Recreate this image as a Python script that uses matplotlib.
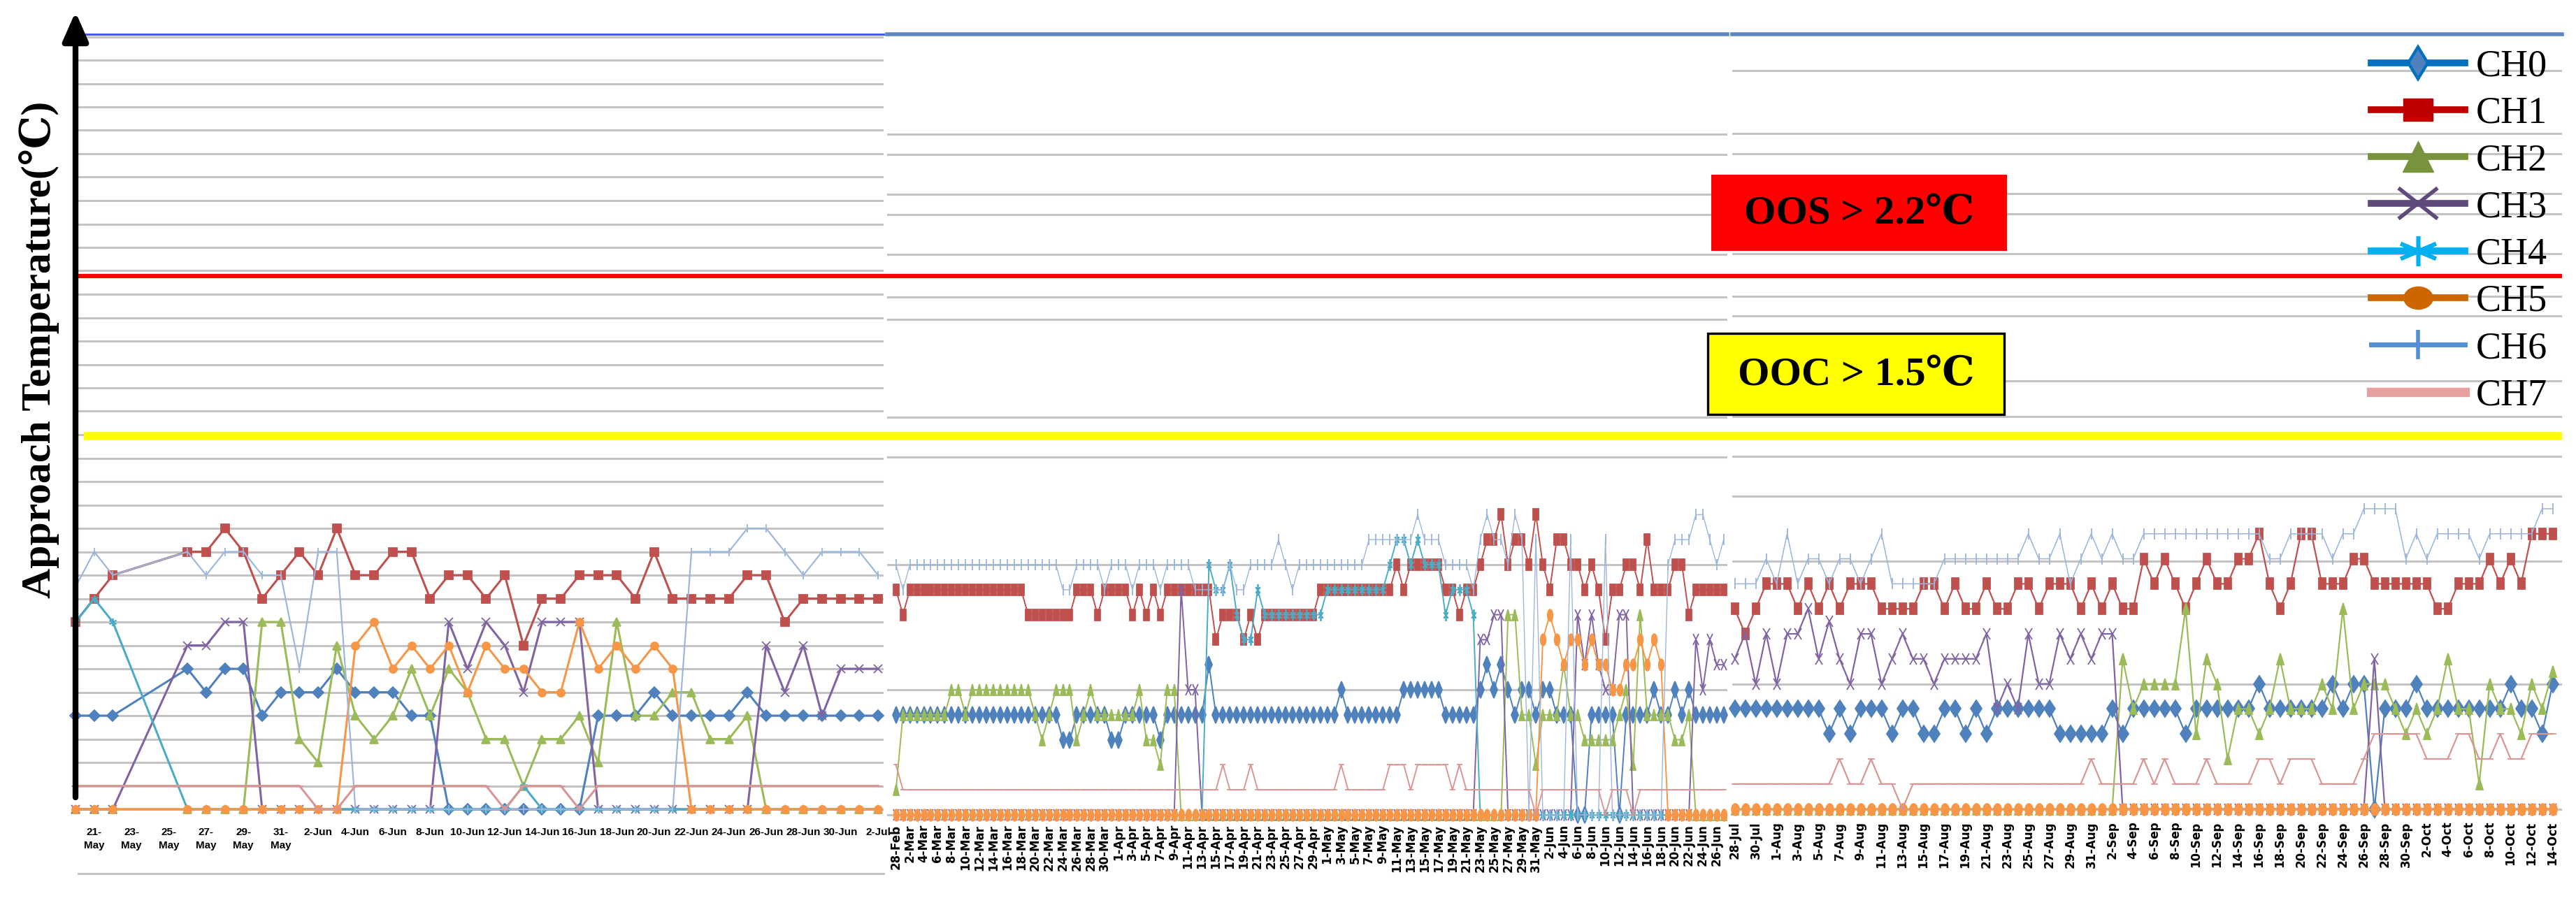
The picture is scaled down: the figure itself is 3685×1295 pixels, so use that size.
import matplotlib
matplotlib.use("Agg")
import matplotlib.pyplot as plt
from matplotlib.lines import Line2D
from matplotlib.markers import MarkerStyle
from matplotlib.patches import Rectangle

# ---------------------------------------------------------------------------
# Data: approach temperature (degC) per channel
# ---------------------------------------------------------------------------
CHANNELS = ["CH0", "CH1", "CH2", "CH3", "CH4", "CH5", "CH6", "CH7"]

OOS_LIMIT = 2.2
OOC_LIMIT = 1.5

# panel 1: day offset from 20-May (no readings 23..25 May)
LEFT_DAY = [0, 1, 2, 6, 7, 8, 9, 10, 11, 12, 13, 14, 15, 16, 17, 18, 19, 20, 21, 22,
            23, 24, 25, 26, 27, 28, 29, 30, 31, 32, 33, 34, 35, 36, 37, 38, 39, 40, 41, 42, 43]
LEFT_CH0 = [0.4, 0.4, 0.4, 0.6, 0.5, 0.6, 0.6, 0.4, 0.5, 0.5, 0.5, 0.6, 0.5, 0.5, 0.5, 0.4, 0.4, 0, 0, 0,
            0, 0, 0, 0, 0, 0.4, 0.4, 0.4, 0.5, 0.4, 0.4, 0.4, 0.4, 0.5, 0.4, 0.4, 0.4, 0.4, 0.4, 0.4, 0.4]
LEFT_CH1 = [0.8, 0.9, 1.0, 1.1, 1.1, 1.2, 1.1, 0.9, 1.0, 1.1, 1.0, 1.2, 1.0, 1.0, 1.1, 1.1, 0.9, 1.0, 1.0, 0.9,
            1.0, 0.7, 0.9, 0.9, 1.0, 1.0, 1.0, 0.9, 1.1, 0.9, 0.9, 0.9, 0.9, 1.0, 1.0, 0.8, 0.9, 0.9, 0.9, 0.9, 0.9]
LEFT_CH2 = [0, 0, 0, 0, 0, 0, 0, 0.8, 0.8, 0.3, 0.2, 0.7, 0.4, 0.3, 0.4, 0.6, 0.4, 0.6, 0.5, 0.3,
            0.3, 0.1, 0.3, 0.3, 0.4, 0.2, 0.8, 0.4, 0.4, 0.5, 0.5, 0.3, 0.3, 0.4, 0, 0, 0, 0, 0, 0, 0]
LEFT_CH3 = [0, 0, 0, 0.7, 0.7, 0.8, 0.8, 0, 0, 0, 0, 0, 0, 0, 0, 0, 0, 0.8, 0.6, 0.8,
            0.7, 0.5, 0.8, 0.8, 0.8, 0, 0, 0, 0, 0, 0, 0, 0, 0, 0.7, 0.5, 0.7, 0.4, 0.6, 0.6, 0.6]
LEFT_CH4 = [0.8, 0.9, 0.8, 0, 0, 0, 0, 0, 0, 0, 0, 0, 0, 0, 0, 0, 0, 0, 0, 0,
            0, 0.1, 0, 0, 0, 0, 0, 0, 0, 0, 0, 0, 0, 0, 0, 0, 0, 0, 0, 0, 0]
LEFT_CH5 = [0, 0, 0, 0, 0, 0, 0, 0, 0, 0, 0, 0, 0.7, 0.8, 0.6, 0.7, 0.6, 0.7, 0.5, 0.7,
            0.6, 0.6, 0.5, 0.5, 0.8, 0.6, 0.7, 0.6, 0.7, 0.6, 0, 0, 0, 0, 0, 0, 0, 0, 0, 0, 0]
LEFT_CH6 = [0.95, 1.1, 1.0, 1.1, 1.0, 1.1, 1.1, 1.0, 1.0, 0.6, 1.1, 1.1, 0, 0, 0, 0, 0, 0, 0, 0,
            0, 0, 0, 0, 0, 0, 0, 0, 0, 0, 1.1, 1.1, 1.1, 1.2, 1.2, 1.1, 1.0, 1.1, 1.1, 1.1, 1.0]
LEFT_CH7 = [0.1, 0.1, 0.1, 0.1, 0.1, 0.1, 0.1, 0.1, 0.1, 0.1, 0, 0, 0.1, 0.1, 0.1, 0.1, 0.1, 0.1, 0.1, 0.1,
            0, 0.1, 0.1, 0.1, 0, 0.1, 0.1, 0.1, 0.1, 0.1, 0.1, 0.1, 0.1, 0.1, 0.1, 0.1, 0.1, 0.1, 0.1, 0.1, 0.1]
LEFT_TICK_DAY = [1, 3, 5, 7, 9, 11, 13, 15, 17, 19, 21, 23, 25, 27, 29, 31, 33, 35, 37, 39, 41, 43]
LEFT_TICK_LABEL = ["21-\nMay", "23-\nMay", "25-\nMay", "27-\nMay", "29-\nMay", "31-\nMay",
                   "2-Jun", "4-Jun", "6-Jun", "8-Jun", "10-Jun", "12-Jun", "14-Jun", "16-Jun",
                   "18-Jun", "20-Jun", "22-Jun", "24-Jun", "26-Jun", "28-Jun", "30-Jun", "2-Jul"]

# panel 2: daily readings from 28-Feb
MID_CH0 = [0.4, 0.4, 0.4, 0.4, 0.4, 0.4, 0.4, 0.4, 0.4, 0.4, 0.4, 0.4, 0.4, 0.4, 0.4, 0.4, 0.4, 0.4, 0.4, 0.4,
           0.4, 0.4, 0.4, 0.4, 0.3, 0.3, 0.4, 0.4, 0.4, 0.4, 0.4, 0.3, 0.3, 0.4, 0.4, 0.4, 0.4, 0.4, 0.3, 0.4,
           0.4, 0.4, 0.4, 0.4, 0.4, 0.6, 0.4, 0.4, 0.4, 0.4, 0.4, 0.4, 0.4, 0.4, 0.4, 0.4, 0.4, 0.4, 0.4, 0.4,
           0.4, 0.4, 0.4, 0.4, 0.5, 0.4, 0.4, 0.4, 0.4, 0.4, 0.4, 0.4, 0.4, 0.5, 0.5, 0.5, 0.5, 0.5, 0.5, 0.4,
           0.4, 0.4, 0.4, 0.4, 0.5, 0.6, 0.5, 0.6, 0.5, 0.4, 0.5, 0.5, 0.4, 0.5, 0.5, 0.4, 0.4, 0.4, 0.0, 0.0,
           0.4, 0.4, 0.4, 0.4, 0.0, 0.4, 0.4, 0.4, 0.4, 0.5, 0.4, 0.4, 0.5, 0.4, 0.5, 0.4, 0.4, 0.4, 0.4, 0.4]
MID_CH1 = [0.9, 0.8, 0.9, 0.9, 0.9, 0.9, 0.9, 0.9, 0.9, 0.9, 0.9, 0.9, 0.9, 0.9, 0.9, 0.9, 0.9, 0.9, 0.9, 0.8,
           0.8, 0.8, 0.8, 0.8, 0.8, 0.8, 0.9, 0.9, 0.9, 0.8, 0.9, 0.9, 0.9, 0.9, 0.8, 0.9, 0.8, 0.9, 0.8, 0.9,
           0.9, 0.9, 0.9, 0.9, 0.9, 0.9, 0.7, 0.8, 0.8, 0.8, 0.7, 0.8, 0.7, 0.8, 0.8, 0.8, 0.8, 0.8, 0.8, 0.8,
           0.8, 0.9, 0.9, 0.9, 0.9, 0.9, 0.9, 0.9, 0.9, 0.9, 0.9, 0.9, 1.0, 0.9, 1.0, 1.0, 1.0, 1.0, 1.0, 0.9,
           0.9, 0.8, 0.9, 0.9, 1.0, 1.1, 1.1, 1.2, 1.0, 1.1, 1.1, 1.0, 1.2, 1.0, 0.9, 1.1, 1.1, 1.0, 1.0, 0.9,
           1.0, 0.9, 0.7, 0.9, 0.9, 1.0, 1.0, 0.9, 1.1, 0.9, 0.9, 0.9, 1.0, 1.0, 0.8, 0.9, 0.9, 0.9, 0.9, 0.9]
MID_CH2 = [0.1, 0.4, 0.4, 0.4, 0.4, 0.4, 0.4, 0.4, 0.5, 0.5, 0.4, 0.5, 0.5, 0.5, 0.5, 0.5, 0.5, 0.5, 0.5, 0.5,
           0.4, 0.3, 0.4, 0.5, 0.5, 0.5, 0.3, 0.4, 0.5, 0.4, 0.4, 0.4, 0.4, 0.4, 0.4, 0.5, 0.3, 0.3, 0.2, 0.5,
           0.5, 0, 0, 0, 0, 0, 0, 0, 0, 0, 0, 0, 0, 0, 0, 0, 0, 0, 0, 0,
           0, 0, 0, 0, 0, 0, 0, 0, 0, 0, 0, 0, 0, 0, 0, 0, 0, 0, 0, 0,
           0, 0, 0, 0, 0, 0, 0, 0, 0.8, 0.8, 0.4, 0.4, 0.2, 0.4, 0.4, 0.4, 0.6, 0.4, 0.4, 0.3,
           0.3, 0.3, 0.3, 0.3, 0.4, 0.5, 0.2, 0.8, 0.4, 0.4, 0.4, 0.4, 0.3, 0.3, 0.4, 0, 0, 0, 0, 0]
MID_CH3 = [0, 0, 0, 0, 0, 0, 0, 0, 0, 0, 0, 0, 0, 0, 0, 0, 0, 0, 0, 0,
           0, 0, 0, 0, 0, 0, 0, 0, 0, 0, 0, 0, 0, 0, 0, 0, 0, 0, 0, 0,
           0, 0.9, 0.5, 0.5, 0, 0, 0, 0, 0, 0, 0, 0, 0, 0, 0, 0, 0, 0, 0, 0,
           0, 0, 0, 0, 0, 0, 0, 0, 0, 0, 0, 0, 0, 0, 0, 0, 0, 0, 0, 0,
           0, 0, 0, 0, 0.7, 0.7, 0.8, 0.8, 0, 0, 0, 0, 0, 0, 0, 0, 0, 0, 0.8, 0.6,
           0.8, 0.6, 0.5, 0.5, 0.8, 0.8, 0, 0, 0, 0, 0, 0, 0, 0, 0, 0.7, 0.5, 0.7, 0.6, 0.6]
MID_CH4 = [0, 0, 0, 0, 0, 0, 0, 0, 0, 0, 0, 0, 0, 0, 0, 0, 0, 0, 0, 0,
           0, 0, 0, 0, 0, 0, 0, 0, 0, 0, 0, 0, 0, 0, 0, 0, 0, 0, 0, 0,
           0, 0, 0, 0, 0, 1.0, 0.9, 0.9, 1.0, 0.8, 0.7, 0.7, 0.9, 0.8, 0.8, 0.8, 0.8, 0.8, 0.8, 0.8,
           0.8, 0.8, 0.9, 0.9, 0.9, 0.9, 0.9, 0.9, 0.9, 0.9, 0.9, 1.0, 1.1, 1.1, 1.0, 1.1, 1.0, 1.0, 1.0, 0.8,
           0.9, 0.9, 0.9, 0.8, 0, 0, 0, 0, 0, 0, 0, 0, 0, 0, 0, 0, 0, 0, 0, 0,
           0, 0, 0, 0, 0, 0, 0, 0, 0, 0, 0, 0, 0, 0, 0, 0, 0, 0, 0, 0]
MID_CH5 = [0, 0, 0, 0, 0, 0, 0, 0, 0, 0, 0, 0, 0, 0, 0, 0, 0, 0, 0, 0,
           0, 0, 0, 0, 0, 0, 0, 0, 0, 0, 0, 0, 0, 0, 0, 0, 0, 0, 0, 0,
           0, 0, 0, 0, 0, 0, 0, 0, 0, 0, 0, 0, 0, 0, 0, 0, 0, 0, 0, 0,
           0, 0, 0, 0, 0, 0, 0, 0, 0, 0, 0, 0, 0, 0, 0, 0, 0, 0, 0, 0,
           0, 0, 0, 0, 0, 0, 0, 0, 0, 0, 0, 0, 0, 0.7, 0.8, 0.7, 0.6, 0.7, 0.7, 0.6,
           0.7, 0.6, 0.6, 0.5, 0.5, 0.6, 0.6, 0.7, 0.6, 0.7, 0.6, 0, 0, 0, 0, 0, 0, 0, 0, 0]
MID_CH6 = [1.0, 0.9, 1.0, 1.0, 1.0, 1.0, 1.0, 1.0, 1.0, 1.0, 1.0, 1.0, 1.0, 1.0, 1.0, 1.0, 1.0, 1.0, 1.0, 1.0,
           1.0, 1.0, 1.0, 1.0, 0.9, 0.9, 1.0, 1.0, 1.0, 1.0, 0.9, 1.0, 1.0, 1.0, 0.9, 1.0, 1.0, 1.0, 0.9, 1.0,
           1.0, 1.0, 1.0, 0.9, 0.9, 0.9, 0.9, 0.9, 1.0, 0.9, 0.9, 1.0, 1.0, 1.0, 1.0, 1.1, 1.0, 0.9, 1.0, 1.0,
           1.0, 1.0, 1.0, 1.0, 1.0, 1.0, 1.0, 1.0, 1.1, 1.1, 1.1, 1.1, 1.1, 1.1, 1.1, 1.2, 1.1, 1.1, 1.1, 1.0,
           1.0, 1.0, 1.0, 0.9, 1.1, 1.2, 1.1, 1.1, 1.0, 1.2, 1.1, 0, 1.1, 0, 0, 0, 0, 1.1, 0, 0,
           0, 0, 1.1, 0, 0, 0, 0, 0, 0, 0, 0, 1.0, 1.1, 1.1, 1.1, 1.2, 1.2, 1.1, 1.0, 1.1]
MID_CH7 = [0.2, 0.1, 0.1, 0.1, 0.1, 0.1, 0.1, 0.1, 0.1, 0.1, 0.1, 0.1, 0.1, 0.1, 0.1, 0.1, 0.1, 0.1, 0.1, 0.1,
           0.1, 0.1, 0.1, 0.1, 0.1, 0.1, 0.1, 0.1, 0.1, 0.1, 0.1, 0.1, 0.1, 0.1, 0.1, 0.1, 0.1, 0.1, 0.1, 0.1,
           0.1, 0.1, 0.1, 0.1, 0.1, 0.1, 0.1, 0.2, 0.1, 0.1, 0.1, 0.2, 0.1, 0.1, 0.1, 0.1, 0.1, 0.1, 0.1, 0.1,
           0.1, 0.1, 0.1, 0.1, 0.2, 0.1, 0.1, 0.1, 0.1, 0.1, 0.1, 0.2, 0.2, 0.2, 0.1, 0.2, 0.2, 0.2, 0.2, 0.2,
           0.1, 0.2, 0.1, 0.1, 0.1, 0.1, 0.1, 0.1, 0.1, 0.1, 0.1, 0.1, 0, 0.1, 0.1, 0.1, 0.1, 0.1, 0.1, 0.1,
           0.1, 0.1, 0, 0.1, 0.1, 0.1, 0, 0.1, 0.1, 0.1, 0.1, 0.1, 0.1, 0.1, 0.1, 0.1, 0.1, 0.1, 0.1, 0.1]
MID_TICK_LABEL = ["28-Feb", "2-Mar", "4-Mar", "6-Mar", "8-Mar", "10-Mar", "12-Mar", "14-Mar", "16-Mar",
                  "18-Mar", "20-Mar", "22-Mar", "24-Mar", "26-Mar", "28-Mar", "30-Mar", "1-Apr", "3-Apr",
                  "5-Apr", "7-Apr", "9-Apr", "11-Apr", "13-Apr", "15-Apr", "17-Apr", "19-Apr", "21-Apr",
                  "23-Apr", "25-Apr", "27-Apr", "29-Apr", "1-May", "3-May", "5-May", "7-May", "9-May",
                  "11-May", "13-May", "15-May", "17-May", "19-May", "21-May", "23-May", "25-May", "27-May",
                  "29-May", "31-May", "2-Jun", "4-Jun", "6-Jun", "8-Jun", "10-Jun", "12-Jun", "14-Jun",
                  "16-Jun", "18-Jun", "20-Jun", "22-Jun", "24-Jun", "26-Jun"]

# panel 3: daily readings from 28-Jul
RIGHT_CH0 = [0.4, 0.4, 0.4, 0.4, 0.4, 0.4, 0.4, 0.4, 0.4, 0.3, 0.4, 0.3, 0.4, 0.4, 0.4, 0.3, 0.4, 0.4, 0.3, 0.3,
             0.4, 0.4, 0.3, 0.4, 0.3, 0.4, 0.4, 0.4, 0.4, 0.4, 0.4, 0.3, 0.3, 0.3, 0.3, 0.3, 0.4, 0.3, 0.4, 0.4,
             0.4, 0.4, 0.4, 0.3, 0.4, 0.4, 0.4, 0.4, 0.4, 0.4, 0.5, 0.4, 0.4, 0.4, 0.4, 0.4, 0.4, 0.5, 0.4, 0.5,
             0.5, 0, 0.4, 0.4, 0.4, 0.5, 0.4, 0.4, 0.4, 0.4, 0.4, 0.4, 0.4, 0.4, 0.5, 0.4, 0.4, 0.3, 0.5]
RIGHT_CH1 = [0.8, 0.7, 0.8, 0.9, 0.9, 0.9, 0.8, 0.9, 0.8, 0.9, 0.8, 0.9, 0.9, 0.9, 0.8, 0.8, 0.8, 0.8, 0.9, 0.9,
             0.8, 0.9, 0.8, 0.8, 0.9, 0.8, 0.8, 0.9, 0.9, 0.8, 0.9, 0.9, 0.9, 0.8, 0.9, 0.8, 0.9, 0.8, 0.8, 1.0,
             0.9, 1.0, 0.9, 0.8, 0.9, 1.0, 0.9, 0.9, 1.0, 1.0, 1.1, 0.9, 0.8, 0.9, 1.1, 1.1, 0.9, 0.9, 0.9, 1.0,
             1.0, 0.9, 0.9, 0.9, 0.9, 0.9, 0.9, 0.8, 0.8, 0.9, 0.9, 0.9, 1.0, 0.9, 1.0, 0.9, 1.1, 1.1, 1.1]
RIGHT_CH2 = [0, 0, 0, 0, 0, 0, 0, 0, 0, 0, 0, 0, 0, 0, 0, 0, 0, 0, 0, 0,
             0, 0, 0, 0, 0, 0, 0, 0, 0, 0, 0, 0, 0, 0, 0, 0, 0, 0.6, 0.4, 0.5,
             0.5, 0.5, 0.5, 0.8, 0.3, 0.6, 0.5, 0.2, 0.4, 0.4, 0.3, 0.4, 0.6, 0.4, 0.4, 0.4, 0.5, 0.4, 0.8, 0.4,
             0.5, 0.5, 0.5, 0.4, 0.3, 0.4, 0.3, 0.4, 0.6, 0.4, 0.4, 0.1, 0.5, 0.4, 0.4, 0.3, 0.5, 0.4, 0.55]
RIGHT_CH3 = [0.6, 0.7, 0.5, 0.7, 0.5, 0.7, 0.7, 0.8, 0.6, 0.75, 0.6, 0.5, 0.7, 0.7, 0.5, 0.6, 0.7, 0.6, 0.6, 0.5,
             0.6, 0.6, 0.6, 0.6, 0.7, 0.4, 0.5, 0.4, 0.7, 0.5, 0.5, 0.7, 0.6, 0.7, 0.6, 0.7, 0.7, 0, 0, 0,
             0, 0, 0, 0, 0, 0, 0, 0, 0, 0, 0, 0, 0, 0, 0, 0, 0, 0, 0, 0,
             0, 0.6, 0, 0, 0, 0, 0, 0, 0, 0, 0, 0, 0, 0, 0, 0, 0, 0, 0]
RIGHT_CH4 = [0, 0, 0, 0, 0, 0, 0, 0, 0, 0, 0, 0, 0, 0, 0, 0, 0, 0, 0, 0,
             0, 0, 0, 0, 0, 0, 0, 0, 0, 0, 0, 0, 0, 0, 0, 0, 0, 0, 0, 0,
             0, 0, 0, 0, 0, 0, 0, 0, 0, 0, 0, 0, 0, 0, 0, 0, 0, 0, 0, 0,
             0, 0, 0, 0, 0, 0, 0, 0, 0, 0, 0, 0, 0, 0, 0, 0, 0, 0, 0]
RIGHT_CH5 = [0, 0, 0, 0, 0, 0, 0, 0, 0, 0, 0, 0, 0, 0, 0, 0, 0, 0, 0, 0,
             0, 0, 0, 0, 0, 0, 0, 0, 0, 0, 0, 0, 0, 0, 0, 0, 0, 0, 0, 0,
             0, 0, 0, 0, 0, 0, 0, 0, 0, 0, 0, 0, 0, 0, 0, 0, 0, 0, 0, 0,
             0, 0, 0, 0, 0, 0, 0, 0, 0, 0, 0, 0, 0, 0, 0, 0, 0, 0, 0]
RIGHT_CH6 = [0.9, 0.9, 0.9, 1.0, 0.9, 1.1, 0.9, 1.0, 1.0, 0.9, 1.0, 1.0, 0.9, 1.0, 1.1, 0.9, 0.9, 0.9, 0.9, 0.9,
             1.0, 1.0, 1.0, 1.0, 1.0, 1.0, 1.0, 1.0, 1.1, 1.0, 1.0, 1.1, 0.9, 1.0, 1.1, 1.0, 1.1, 1.0, 1.0, 1.1,
             1.1, 1.1, 1.1, 1.1, 1.1, 1.1, 1.1, 1.1, 1.1, 1.1, 1.1, 1.0, 1.0, 1.1, 1.1, 1.1, 1.1, 1.0, 1.1, 1.1,
             1.2, 1.2, 1.2, 1.2, 1.0, 1.1, 1.0, 1.1, 1.1, 1.1, 1.1, 1.0, 1.1, 1.1, 1.1, 1.1, 1.1, 1.2, 1.2]
RIGHT_CH7 = [0.1, 0.1, 0.1, 0.1, 0.1, 0.1, 0.1, 0.1, 0.1, 0.1, 0.2, 0.1, 0.1, 0.2, 0.1, 0.1, 0, 0.1, 0.1, 0.1,
             0.1, 0.1, 0.1, 0.1, 0.1, 0.1, 0.1, 0.1, 0.1, 0.1, 0.1, 0.1, 0.1, 0.1, 0.2, 0.1, 0.1, 0.1, 0.1, 0.2,
             0.1, 0.2, 0.1, 0.1, 0.1, 0.2, 0.1, 0.1, 0.1, 0.1, 0.2, 0.2, 0.1, 0.2, 0.2, 0.2, 0.1, 0.1, 0.1, 0.1,
             0.2, 0.3, 0.3, 0.3, 0.3, 0.3, 0.2, 0.2, 0.2, 0.3, 0.3, 0.2, 0.2, 0.3, 0.2, 0.2, 0.3, 0.3, 0.3]
RIGHT_TICK_LABEL = ["28-Jul", "30-Jul", "1-Aug", "3-Aug", "5-Aug", "7-Aug", "9-Aug", "11-Aug", "13-Aug",
                    "15-Aug", "17-Aug", "19-Aug", "21-Aug", "23-Aug", "25-Aug", "27-Aug", "29-Aug", "31-Aug",
                    "2-Sep", "4-Sep", "6-Sep", "8-Sep", "10-Sep", "12-Sep", "14-Sep", "16-Sep", "18-Sep",
                    "20-Sep", "22-Sep", "24-Sep", "26-Sep", "28-Sep", "30-Sep", "2-Oct", "4-Oct", "6-Oct",
                    "8-Oct", "10-Oct", "12-Oct", "14-Oct"]

# ---------------------------------------------------------------------------
# Styling
# ---------------------------------------------------------------------------
SERIES_COLOR = ["#4f81bd", "#c0504d", "#9bbb59", "#8064a2", "#4bacc6", "#f79646", "#9ab6dc", "#d99694"]
SERIES_MARKER = ["D", "s", "^", "x", (6, 2, 0), "o", "|", "_"]

SERIF = ["Liberation Serif", "DejaVu Serif", "DejaVu Sans"]
NARROW = ["Liberation Sans Narrow", "Liberation Sans", "DejaVu Sans"]
GRID = "#c4c4c4"

W, H = 3685, 1295          # output size in px (dpi 100)
TOP_PX, BOTTOM_PX = 48.5, 1170

fig = plt.figure(figsize=(W / 100, H / 100), dpi=100)


def add_panel(x0, x1, day0_px, px_day, base_px, px_tenth, spine_color, spine_lw):
    ax = fig.add_axes([x0 / W, 1 - BOTTOM_PX / H, (x1 - x0) / W, (BOTTOM_PX - TOP_PX) / H])
    ax.set_xlim((x0 - day0_px) / px_day, (x1 - day0_px) / px_day)
    ax.set_ylim(-(BOTTOM_PX - base_px) / px_tenth * 0.1, (base_px - TOP_PX) / px_tenth * 0.1)
    ax.patch.set_alpha(0)
    for side in ("left", "right", "bottom"):
        ax.spines[side].set_visible(False)
    ax.spines["top"].set_color(spine_color)
    ax.spines["top"].set_linewidth(spine_lw)
    ax.set_yticks([])
    ax.tick_params(axis="x", length=0)
    return ax


def draw_series(ax, x, series, lw, ms, squeeze):
    for i, vals in enumerate(series):
        color = SERIES_COLOR[i]
        marker = MarkerStyle(SERIES_MARKER[i]).scaled(squeeze, 1.0)
        ax.plot(x, vals, color=color, lw=lw * (0.7 if i == 6 else 1.0), marker=marker, ms=ms,
                mfc=color, mec=color, mew=1.3, zorder=2 + i, clip_on=False)


# --- panel 1 --------------------------------------------------------------
ax1 = add_panel(112, 1264, 108, 26.7, 1158, 33.5, "#4657ee", 2.2)
for k in range(34):
    ax1.axhline(k * 0.1, color=GRID, lw=2.2, zorder=0)
ax1.axhline(-0.275, color=GRID, lw=2.2, zorder=0, clip_on=False)
draw_series(ax1, LEFT_DAY, [LEFT_CH0, LEFT_CH1, LEFT_CH2, LEFT_CH3, LEFT_CH4, LEFT_CH5, LEFT_CH6, LEFT_CH7],
            lw=2.2, ms=8, squeeze=1.0)
ax1.set_xticks(LEFT_TICK_DAY)
ax1.set_xticklabels(LEFT_TICK_LABEL, fontsize=11, fontweight="bold", family=NARROW, linespacing=1.45)
ax1.tick_params(axis="x", pad=10)

# --- panel 2 --------------------------------------------------------------
ax2 = add_panel(1269, 2471, 1281.7, 9.95, 1166, 35.8, "#5b87c5", 4)
for lv in [2.72, 2.64, 2.48, 2.40, 2.24, 2.07, 1.98, 1.59, 1.43, 1.0, 0.5, 0.0]:
    ax2.axhline(lv, color=GRID, lw=2.2, zorder=0)
mid_days = list(range(len(MID_CH0)))
draw_series(ax2, mid_days, [MID_CH0, MID_CH1, MID_CH2, MID_CH3, MID_CH4, MID_CH5, MID_CH6, MID_CH7],
            lw=1.4, ms=12, squeeze=0.45)
ax2.set_xticks(mid_days[::2])
ax2.set_xticklabels(MID_TICK_LABEL, rotation=90, fontsize=12, fontweight="bold", family="DejaVu Sans")
ax2.tick_params(axis="x", pad=7)

# --- panel 3 --------------------------------------------------------------
ax3 = add_panel(2478, 3665, 2481.5, 15.0, 1157.6, 35.8, "#5b87c5", 4)
for lv in [2.95, 2.70, 2.62, 2.46, 2.38, 2.22, 2.05, 1.97, 1.71, 1.57, 1.41, 1.25, 0.99, 0.5, 0.0]:
    ax3.axhline(lv, color=GRID, lw=2.2, zorder=0)
right_days = list(range(len(RIGHT_CH0)))
draw_series(ax3, right_days, [RIGHT_CH0, RIGHT_CH1, RIGHT_CH2, RIGHT_CH3, RIGHT_CH4, RIGHT_CH5, RIGHT_CH6,
                              RIGHT_CH7], lw=1.6, ms=12, squeeze=0.65)
ax3.set_xticks(right_days[::2])
ax3.set_xticklabels(RIGHT_TICK_LABEL, rotation=90, fontsize=12, fontweight="bold", family="DejaVu Sans")
ax3.tick_params(axis="x", pad=4)

# --- threshold lines (own degC scale across the whole figure) ------------
ax_ref = fig.add_axes([0, 0, 1, 1])
ax_ref.set_zorder(5)
ax_ref.axis("off")
ax_ref.set_xlim(0, W)
px_per_deg = (624 - 394.6) / (OOS_LIMIT - OOC_LIMIT)
ax_ref.set_ylim(OOC_LIMIT - (H - 624) / px_per_deg, OOC_LIMIT + 624 / px_per_deg)
ax_ref.hlines(OOS_LIMIT, 112, 3665, color="#ff0000", lw=4.5)
ax_ref.hlines(OOC_LIMIT, 120, 3665, color="#ffff00", lw=8.4)

# --- annotations in pixel space -------------------------------------------
ax_px = fig.add_axes([0, 0, 1, 1])
ax_px.set_zorder(6)
ax_px.axis("off")
ax_px.set_xlim(0, W)
ax_px.set_ylim(H, 0)

ax_px.add_patch(Rectangle((2448, 250), 423, 109, facecolor="#ff0000", edgecolor="none"))
ax_px.text(2660, 306, f"OOS > {OOS_LIMIT}\u2103", ha="center", va="center", fontsize=42,
           fontweight="bold", family=SERIF)
ax_px.add_patch(Rectangle((2443, 477), 424, 116, facecolor="#ffff00", edgecolor="black", lw=2.4))
ax_px.text(2655, 537, f"OOC > {OOC_LIMIT}\u2103", ha="center", va="center", fontsize=42,
           fontweight="bold", family=SERIF)

ax_px.annotate("", xy=(108, 17), xytext=(108, 1141),
               arrowprops=dict(arrowstyle="-|>,head_length=25,head_width=11", lw=6, color="black",
                               mutation_scale=1, shrinkA=0, shrinkB=0))
ax_px.text(56, 500, "Approach Temperature(\u2103)", rotation=90, ha="center", va="center",
           fontsize=43, fontweight="bold", family=SERIF)

legend_handles = [
    Line2D([], [], color="#0070c0", lw=7, marker="d", ms=23, mfc="#4f81bd", mec="#0070c0", mew=3),
    Line2D([], [], color="#c00000", lw=7, marker=MarkerStyle("s").scaled(1.0, 0.75), ms=30,
           mfc="#c00000", mec="#c00000"),
    Line2D([], [], color="#77933c", lw=7, marker="^", ms=32, mfc="#77933c", mec="#77933c"),
    Line2D([], [], color="#604a7b", lw=7, marker=MarkerStyle("x").scaled(1.3, 1.0), ms=31,
           mec="#604a7b", mew=4),
    Line2D([], [], color="#00b0f0", lw=7, marker=MarkerStyle((6, 2, 0)).scaled(1.35, 1.0), ms=31,
           mec="#00b0f0", mew=4),
    Line2D([], [], color="#cc6600", lw=7, marker=MarkerStyle("o").scaled(1.3, 1.0), ms=23,
           mfc="#cc6600", mec="#cc6600"),
    Line2D([], [], color="#558ed5", lw=5, marker="|", ms=30, mec="#558ed5", mew=4),
    Line2D([], [], color="#e6a0a0", lw=9.6),
]
ax_px.legend(legend_handles, CHANNELS, loc="upper left", bbox_to_anchor=(3392, 70),
             bbox_transform=ax_px.transData, frameon=False, borderpad=0, borderaxespad=0,
             handlelength=2.48, handletextpad=0.28, labelspacing=0.31,
             prop=dict(family=SERIF, size=39))

fig.savefig("out.png", dpi=100)
